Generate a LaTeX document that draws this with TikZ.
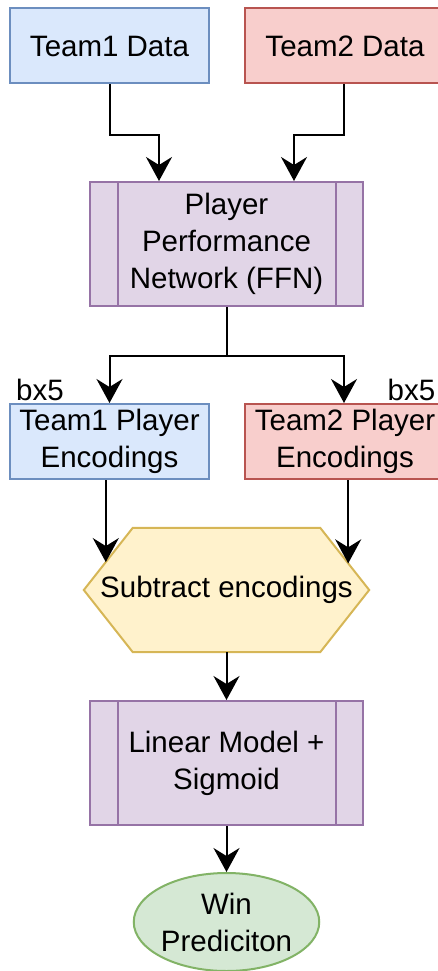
\documentclass[tikz,border=0pt]{standalone}
\usepackage{fontspec}
\setmainfont{Liberation Sans}
\usetikzlibrary{arrows.meta,calc,backgrounds,shapes.geometric}
\definecolor{bluefill}{HTML}{DAE8FC}\definecolor{bluedraw}{HTML}{6C8EBF}
\definecolor{redfill}{HTML}{F8CECC}\definecolor{reddraw}{HTML}{B85450}
\definecolor{purpfill}{HTML}{E1D5E7}\definecolor{purpdraw}{HTML}{9673A6}
\definecolor{yelfill}{HTML}{FFF2CC}\definecolor{yeldraw}{HTML}{D6B656}
\definecolor{grnfill}{HTML}{D5E8D4}\definecolor{grndraw}{HTML}{82B366}
\tikzset{
  flowtip/.tip={Stealth[length=24pt,width=26pt,inset=8pt]}
}
\begin{document}
\begin{tikzpicture}[x=1pt,y=-1pt,
  txt/.style={font=\fontsize{29.5}{37}\selectfont, align=center, text=black, inner sep=0pt},
  databox/.style={txt, draw, line width=2pt, minimum width=199pt, minimum height=75pt},
  bluebox/.style={databox, fill=bluefill, draw=bluedraw},
  redbox/.style={databox, fill=redfill, draw=reddraw, minimum width=200pt},
  procbox/.style={txt, draw=purpdraw, fill=purpfill, line width=2pt,
    minimum width=273pt, minimum height=124pt,
    path picture={
      \draw[purpdraw, line width=2pt]
        ([xshift=28pt]path picture bounding box.north west) -- ([xshift=28pt]path picture bounding box.south west)
        ([xshift=-27pt]path picture bounding box.north east) -- ([xshift=-27pt]path picture bounding box.south east);
    }},
  endnode/.style={txt, ellipse, draw=grndraw, fill=grnfill, line width=2pt,
    minimum width=183pt, minimum height=98pt},
  arr/.style={line width=2pt, -flowtip}
]
\useasboundingbox (0,0) rectangle (438,971);
\clip (0,0) rectangle (438,971);

% inputs
\node[bluebox] (t1) at (109.5,46) {Team1 Data};
\node[redbox]  (t2) at (345,46)   {Team2 Data};

% shared player network
\node[procbox] (ffn) at (226.5,244) {Player\\Performance\\Network (FFN)};

% per-team encodings
\node[bluebox] (e1) at (109.5,441.5) {Team1 Player\\Encodings};
\node[redbox]  (e2) at (345,441.5)   {Team2 Player\\Encodings};
\node[txt, anchor=base] (n1) at (40,400)    {bx5};
\node[txt, anchor=base] (n2) at (411.5,400) {bx5};

% difference of encodings (hexagon)
\node[txt, minimum width=285pt, minimum height=124pt] (sub) at (226.5,590) {Subtract encodings};
\coordinate (hnw) at ([xshift=49pt]sub.north west);
\coordinate (hne) at ([xshift=-49pt]sub.north east);
\coordinate (hse) at ([xshift=-49pt]sub.south east);
\coordinate (hsw) at ([xshift=49pt]sub.south west);
\begin{scope}[on background layer]
  \draw[draw=yeldraw, fill=yelfill, line width=2pt, line join=miter]
    (sub.west) -- (hnw) -- (hne) -- (sub.east) -- (hse) -- (hsw) -- cycle;
\end{scope}
\coordinate (h1) at ($(sub.west)!0.449!(hnw)$);
\coordinate (h2) at ($(sub.east)!0.4286!(hne)$);

% output stage
\node[procbox] (lin) at (226.5,763) {Linear Model +\\Sigmoid};
\node[endnode] (win) at (226.5,922) {Win\\Prediciton};

% connectors
\draw[arr] (t1.south) -- ++(0,50) -| ([xshift=-67.5pt]ffn.north);
\draw[arr] ([xshift=-1pt]t2.south) -- ++(0,50) -| ([xshift=67.5pt]ffn.north);
\draw[arr] (ffn.south) -- ++(0,49) -| (e1.north);
\draw[arr] (ffn.south) -- ++(0,49) -| ([xshift=-1pt]e2.north);
\draw[arr] (e1.south -| h1) -- (h1);
\draw[arr] (e2.south -| h2) -- (h2);
\draw[arr] (sub.south) -- (lin.north);
\draw[arr] (lin.south) -- (win.north);
\end{tikzpicture}
\end{document}
